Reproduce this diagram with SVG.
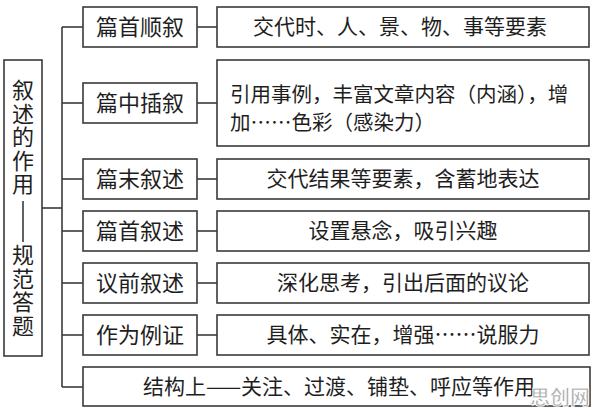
<svg xmlns="http://www.w3.org/2000/svg" width="596" height="417" viewBox="0 0 596 417">
<style>
.box{fill:#fff;stroke:#3a3a3a;stroke-width:1.6}
.ln{fill:none;stroke:#3a3a3a;stroke-width:1.6}
.t{font-family:"Noto Sans CJK SC","Liberation Sans",sans-serif;fill:#1e1e1e}
.l{font-size:22px;text-anchor:middle}
.r{font-size:21px;text-anchor:middle}
.v{font-size:22px;writing-mode:vertical-rl;letter-spacing:1.5px}
</style>
<rect width="596" height="417" fill="#fff"/>
<g id="connectors">
<line class="ln" x1="42" y1="208" x2="62" y2="208"/>
<line class="ln" x1="62" y1="27" x2="62" y2="387"/>
<line class="ln" x1="62" y1="27" x2="83" y2="27"/>
<line class="ln" x1="62" y1="103" x2="83" y2="103"/>
<line class="ln" x1="62" y1="179" x2="83" y2="179"/>
<line class="ln" x1="62" y1="231" x2="83" y2="231"/>
<line class="ln" x1="62" y1="283" x2="83" y2="283"/>
<line class="ln" x1="62" y1="335" x2="83" y2="335"/>
<line class="ln" x1="62" y1="387" x2="83" y2="387"/>
<line class="ln" x1="197" y1="27" x2="217" y2="27"/>
<line class="ln" x1="197" y1="103" x2="217" y2="103"/>
<line class="ln" x1="197" y1="179" x2="217" y2="179"/>
<line class="ln" x1="197" y1="231" x2="217" y2="231"/>
<line class="ln" x1="197" y1="283" x2="217" y2="283"/>
<line class="ln" x1="197" y1="335" x2="217" y2="335"/>
</g>
<g id="root">
<rect class="box" x="4" y="60" width="38" height="296"/>
<text class="t v" x="23" y="79">叙述的作用</text>
<text class="t v" x="23" y="244">规范答题</text>
<line class="ln" x1="23" y1="201" x2="23" y2="242" stroke-width="1.3"/>
</g>
<g id="n1"><rect class="box" x="83" y="7" width="114" height="40"/><text class="t l" x="140" y="35">篇首顺叙</text></g>
<g id="n2"><rect class="box" x="83" y="83" width="114" height="40"/><text class="t l" x="140" y="111">篇中插叙</text></g>
<g id="n3"><rect class="box" x="83" y="159" width="114" height="40"/><text class="t l" x="140" y="187">篇末叙述</text></g>
<g id="n4"><rect class="box" x="83" y="211" width="114" height="40"/><text class="t l" x="140" y="239">篇首叙述</text></g>
<g id="n5"><rect class="box" x="83" y="263" width="114" height="40"/><text class="t l" x="140" y="291">议前叙述</text></g>
<g id="n6"><rect class="box" x="83" y="315" width="114" height="40"/><text class="t l" x="140" y="343">作为例证</text></g>
<g id="r1"><rect class="box" x="217" y="7" width="372" height="40"/><text class="t r" x="400" y="34" font-size="20">交代时、人、景、物、事等要素</text></g>
<g id="r2"><rect class="box" x="217" y="60" width="372" height="86"/>
<text class="t" font-size="20.5" x="230" y="102">引用事例，丰富文章内容（内涵），增</text>
<text class="t" font-size="20.5" x="230" y="130">加……色彩（感染力）</text></g>
<g id="r3"><rect class="box" x="217" y="159" width="372" height="40"/><text class="t r" x="403" y="186">交代结果等要素，含蓄地表达</text></g>
<g id="r4"><rect class="box" x="217" y="211" width="372" height="40"/><text class="t r" x="403" y="238">设置悬念，吸引兴趣</text></g>
<g id="r5"><rect class="box" x="217" y="263" width="372" height="40"/><text class="t r" x="403" y="290">深化思考，引出后面的议论</text></g>
<g id="r6"><rect class="box" x="217" y="315" width="372" height="40"/><text class="t r" x="403" y="342">具体、实在，增强……说服力</text></g>
<g id="n7"><rect class="box" x="83" y="367" width="507" height="39"/><text class="t r" x="339" y="394">结构上——关注、过渡、铺垫、呼应等作用</text></g>
<text x="560" y="405" font-family="'Noto Sans CJK SC',sans-serif" font-size="20" font-weight="bold" text-anchor="middle" fill="#a8a8a8" stroke="#fff" stroke-width="0.8">思创网</text>
</svg>
